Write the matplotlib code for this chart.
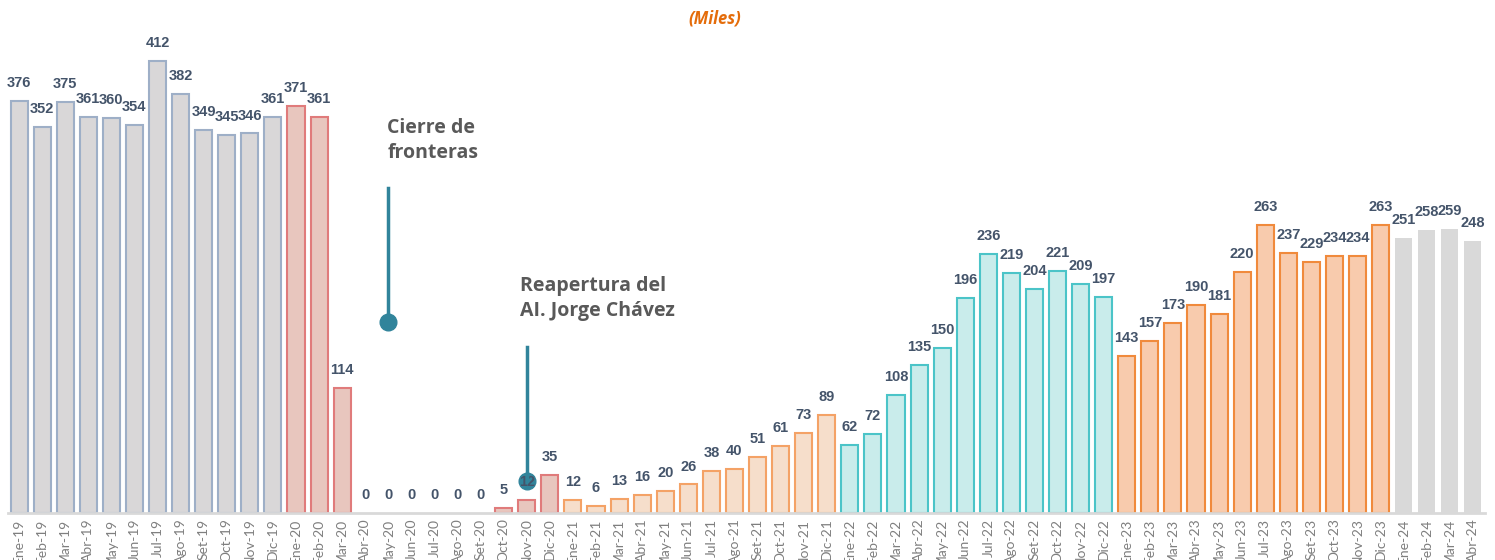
import matplotlib
matplotlib.use("Agg")
import matplotlib.pyplot as plt

months = ["Ene", "Feb", "Mar", "Abr", "May", "Jun", "Jul", "Ago", "Set", "Oct", "Nov", "Dic"]
labels = [f"{m}-{y}" for y in ["19", "20", "21", "22", "23"] for m in months] + ["Ene-24", "Feb-24", "Mar-24", "Abr-24"]

v2019 = [376, 352, 375, 361, 360, 354, 412, 382, 349, 345, 346, 361]
v2020 = [371, 361, 114, 0, 0, 0, 0, 0, 0, 5, 12, 35]
v2021 = [12, 6, 13, 16, 20, 26, 38, 40, 51, 61, 73, 89]
v2022 = [62, 72, 108, 135, 150, 196, 236, 219, 204, 221, 209, 197]
v2023 = [143, 157, 173, 190, 181, 220, 263, 237, 229, 234, 234, 263]
v2024 = [251, 258, 259, 248]

series = [
    (v2019, "#D9D7D8", "#9EAFC7"),
    (v2020, "#E8C6BE", "#E07B7B"),
    (v2021, "#F6DECB", "#F4A266"),
    (v2022, "#C9ECEB", "#4BC4C8"),
    (v2023, "#F8CBAD", "#F08A3C"),
    (v2024, "#D9D9D9", "none"),
]

fig = plt.figure(figsize=(14.95, 5.6), dpi=100)
ax = fig.add_axes([7.5 / 1495, 47 / 560, 1477 / 1495, 493.6 / 560])

start = 0
for vals, fc, ec in series:
    xs = list(range(start, start + len(vals)))
    lws = [(1.5 if (ec != "none" and v > 0) else 0) for v in vals]
    ax.bar(xs, vals, width=0.74, color=fc, edgecolor=ec, linewidth=lws, zorder=2)
    for x, v in zip(xs, vals):
        ax.text(x, v + 10, str(v), ha="center", va="bottom", fontsize=10.5, fontweight="bold",
                color="#44546A", family="Liberation Sans", zorder=5)
    start += len(vals)

ax.set_xlim(-0.5, len(labels) - 0.5)
ax.set_ylim(0, 450)
ax.set_xticks(range(len(labels)))
ax.set_xticklabels(labels, rotation=90, fontsize=10, color="#7F7F7F", family="Lato")
ax.tick_params(axis="x", length=0, pad=4)
ax.set_yticks([])
for s in ["top", "right", "left"]:
    ax.spines[s].set_visible(False)
ax.spines["bottom"].set_color("#D9D9D9")
ax.spines["bottom"].set_linewidth(2)

line_c = "#31849B"
# Cierre de fronteras
ax.plot([16, 16], [296, 174], color=line_c, lw=2.5, zorder=6)
ax.plot([16], [174], "o", color=line_c, ms=12, zorder=6)
ax.text(15.95, 360, "Cierre de\nfronteras", ha="left", va="top", fontsize=14, fontweight="bold",
        color="#595959", family="Open Sans", linespacing=1.3)
# Reapertura
ax.plot([22, 22], [151, 29], color=line_c, lw=2.5, zorder=6)
ax.plot([22], [29], "o", color=line_c, ms=12, zorder=4)
ax.text(21.7, 216, "Reapertura del\nAI. Jorge Chávez", ha="left", va="top", fontsize=14, fontweight="bold",
        color="#595959", family="Open Sans", linespacing=1.3)

fig.text(715 / 1495, 1 - 18 / 560, "(Miles)", ha="center", va="center", fontsize=12,
         fontweight="bold", style="italic", color="#E46C0A", family="Open Sans")

fig.savefig("out.png", dpi=100, facecolor="white")
